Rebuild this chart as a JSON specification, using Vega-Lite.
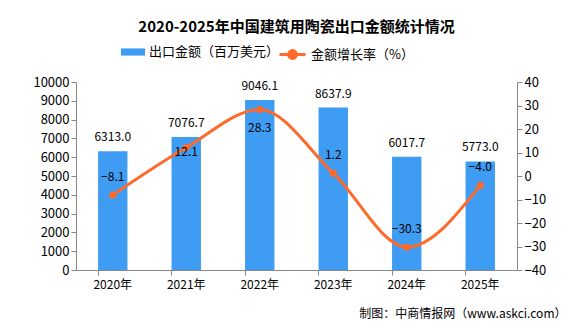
{
  "$schema": "https://vega.github.io/schema/vega-lite/v6.json",
  "autosize": {"type": "none"},
  "width": 441,
  "height": 188,
  "padding": {"left": 76, "top": 82, "right": 59, "bottom": 54},
  "background": "white",
  "title": {
    "text": "2020-2025年中国建筑用陶瓷出口金额统计情况",
    "font": "Noto Sans CJK SC",
    "fontSize": 15,
    "fontWeight": "bold",
    "color": "#000000",
    "anchor": "middle",
    "offset": 5
  },
  "data": {
    "values": [
      {"year": "2020年", "amount": 6313.0, "growth": -8.1, "s1": "出口金额（百万美元）", "s2": "金额增长率（%）"},
      {"year": "2021年", "amount": 7076.7, "growth": 12.1, "s1": "出口金额（百万美元）", "s2": "金额增长率（%）"},
      {"year": "2022年", "amount": 9046.1, "growth": 28.3, "s1": "出口金额（百万美元）", "s2": "金额增长率（%）"},
      {"year": "2023年", "amount": 8637.9, "growth": 1.2, "s1": "出口金额（百万美元）", "s2": "金额增长率（%）"},
      {"year": "2024年", "amount": 6017.7, "growth": -30.3, "s1": "出口金额（百万美元）", "s2": "金额增长率（%）"},
      {"year": "2025年", "amount": 5773.0, "growth": -4.0, "s1": "出口金额（百万美元）", "s2": "金额增长率（%）"}
    ]
  },
  "encoding": {
    "x": {
      "field": "year",
      "type": "ordinal",
      "scale": {"paddingInner": 0.6, "paddingOuter": 0.3},
      "axis": {
        "title": "制图：中商情报网（www.askci.com）",
        "titleFont": "Noto Sans CJK SC",
        "titleFontSize": 12,
        "titleFontWeight": "normal",
        "titleColor": "#000000",
        "titleAnchor": "end",
        "titleAlign": "right",
        "titleBaseline": "middle",
        "titleX": 490,
        "titleY": 43,
        "labelAngle": 0,
        "labelFont": "Noto Sans CJK SC",
        "labelFontSize": 12,
        "labelColor": "#000000",
        "labelPadding": 4,
        "bandPosition": 0,
        "domainColor": "#888888",
        "tickColor": "#888888",
        "tickSize": 5
      }
    }
  },
  "layer": [
    {
      "encoding": {
        "y": {
          "field": "amount",
          "type": "quantitative",
          "scale": {"domain": [0, 10000], "nice": false},
          "axis": {
            "title": null,
            "format": "d",
            "values": [0, 1000, 2000, 3000, 4000, 5000, 6000, 7000, 8000, 9000, 10000],
            "grid": false,
            "labelFont": "Noto Sans CJK SC",
            "labelFontSize": 13,
            "labelColor": "#000000",
            "domainColor": "#888888",
            "tickColor": "#888888",
            "tickSize": 5,
            "labelPadding": 2
          }
        }
      },
      "layer": [
        {
          "mark": {"type": "bar", "color": "#3E9DF2"},
          "encoding": {
            "color": {
              "field": "s1",
              "type": "nominal",
              "scale": {"range": ["#3E9DF2"]},
              "legend": {
                "title": null,
                "orient": "none",
                "legendX": 45,
                "legendY": -42,
                "symbolType": "M-1,-0.3H1V0.3H-1Z",
                "symbolSize": 576,
                "symbolStrokeWidth": 0,
                "labelFont": "Noto Sans CJK SC",
                "labelFontSize": 13,
                "labelColor": "#000000",
                "labelOffset": 4
              }
            }
          }
        },
        {
          "mark": {"type": "text", "baseline": "bottom", "dy": -7, "font": "Noto Sans CJK SC", "fontSize": 12, "color": "#000000"},
          "encoding": {
            "text": {"field": "amount", "type": "quantitative", "format": ".1f"}
          }
        }
      ]
    },
    {
      "encoding": {
        "y": {
          "field": "growth",
          "type": "quantitative",
          "scale": {"domain": [-40, 40], "nice": false},
          "axis": {
            "title": null,
            "orient": "right",
            "values": [-40, -30, -20, -10, 0, 10, 20, 30, 40],
            "grid": false,
            "labelFont": "Noto Sans CJK SC",
            "labelFontSize": 13,
            "labelColor": "#000000",
            "domainColor": "#888888",
            "tickColor": "#888888",
            "tickSize": 5,
            "labelPadding": 2
          }
        }
      },
      "layer": [
        {
          "mark": {"type": "line", "color": "#FF6A2B", "strokeWidth": 3, "interpolate": "monotone"},
          "encoding": {
            "stroke": {
              "field": "s2",
              "type": "nominal",
              "scale": {"range": ["#FF6A2B"]},
              "legend": {
                "title": null,
                "orient": "none",
                "legendX": 202,
                "legendY": -42,
                "symbolType": "M-1,0H1M0.3,0A0.3,0.3 0 1,1 -0.3,0A0.3,0.3 0 1,1 0.3,0Z",
                "symbolSize": 676,
                "symbolStrokeWidth": 3,
                "symbolFillColor": "#FF6A2B",
                "labelFont": "Noto Sans CJK SC",
                "labelFontSize": 13,
                "labelColor": "#000000",
                "labelOffset": 4
              }
            }
          }
        },
        {
          "mark": {"type": "point", "filled": true, "color": "#FF6A2B", "size": 50, "opacity": 1}
        },
        {
          "mark": {"type": "text", "baseline": "middle", "dy": {"expr": "datum.growth > 20 ? 19 : datum.growth > 10 ? 4 : -18"}, "font": "Noto Sans CJK SC", "fontSize": 12, "color": "#000000"},
          "encoding": {
            "text": {"field": "growth", "type": "quantitative", "format": ".1f"}
          }
        }
      ]
    }
  ],
  "resolve": {"scale": {"y": "independent", "color": "independent", "stroke": "independent"}},
  "config": {"view": {"stroke": null}}
}
